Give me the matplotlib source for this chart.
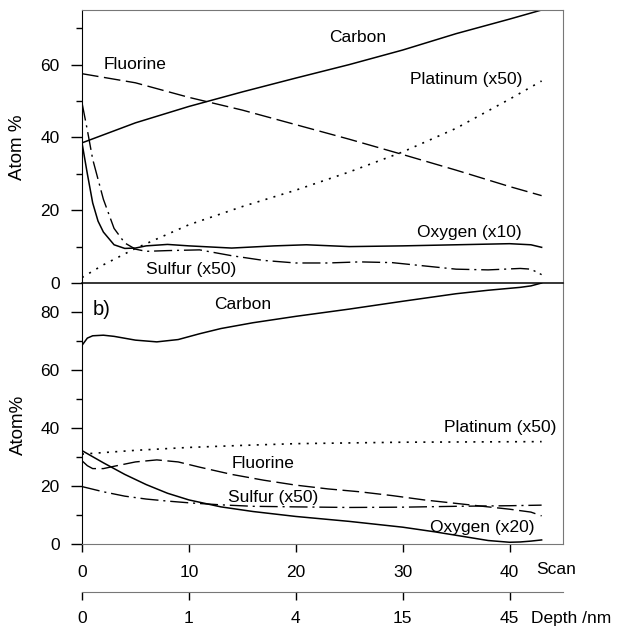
#!/usr/bin/env python3
# depth profile: two stacked panels, scan axis + depth axis

import matplotlib
matplotlib.use("Agg")
import matplotlib.pyplot as plt

plt.rcParams['font.family'] = ['Liberation Sans', 'DejaVu Sans']

# ===== panel a) (top) =====
a_carbon_x = [0, 5, 10, 15, 20, 25, 30, 35, 40, 43]
a_carbon_y = [38.5, 44, 48.5, 52.5, 56.3, 60, 64, 68.5, 72.5, 75]

a_fluor_x = [0, 5, 10, 15, 20, 25, 30, 35, 40, 43]
a_fluor_y = [57.5, 55, 51, 47.5, 43.5, 39.5, 35.3, 31, 26.5, 24]

a_plat_x = [0, 2, 5, 10, 15, 20, 25, 30, 35, 40, 43]
a_plat_y = [1.5, 5, 9.5, 16, 21, 25.5, 30.5, 36, 42.5, 50.5, 55.5]

a_oxy_x = [0, 0.5, 1, 1.5, 2, 3, 4, 5, 6, 8, 10, 14, 18, 21, 25, 30, 35, 40, 42, 43]
a_oxy_y = [38.5, 30, 22, 17, 14, 10.5, 9.5, 9.6, 10.2, 10.6, 10.2, 9.6, 10.2, 10.5,
           10.0, 10.2, 10.5, 10.8, 10.5, 9.8]

a_sulf_x = [0, 0.5, 1, 2, 3, 4, 5, 6, 8, 11, 14, 17, 20, 23, 26, 29, 32, 35, 38, 41, 42, 43]
a_sulf_y = [49.5, 42, 34, 23, 15, 11, 9.3, 8.7, 8.9, 9.1, 7.5, 6.2, 5.5, 5.5, 5.8, 5.6,
            4.7, 3.8, 3.6, 4.0, 3.8, 2.3]

# ===== panel b) (bottom) =====
b_carbon_x = [0, 0.5, 1, 2, 3, 5, 7, 9, 11, 13, 16, 20, 25, 30, 35, 38, 41, 42, 43]
b_carbon_y = [68.5, 71, 71.8, 72, 71.6, 70.3, 69.7, 70.5, 72.5, 74.3, 76.3, 78.5, 81,
              83.7, 86.3, 87.5, 88.5, 89, 90]

b_plat_x = [0, 5, 10, 15, 20, 30, 43]
b_plat_y = [31, 32.3, 33.3, 34, 34.6, 35.1, 35.3]

b_fluor_x = [0, 0.5, 1, 2, 3, 5, 7, 9, 11, 14, 17, 20, 23, 26, 29, 32, 35, 38, 40, 42, 43]
b_fluor_y = [28.7, 27, 26, 26, 26.8, 28.3, 29, 28.3, 26.5, 24, 22, 20.3, 19, 18, 16.7,
             15.2, 14, 12.8, 12, 11, 9.7]

b_oxy_x = [0, 2, 4, 6, 8, 10, 13, 16, 20, 25, 30, 33, 36, 38, 40, 41, 42, 43]
b_oxy_y = [32.2, 28, 24, 20.5, 17.5, 15.2, 12.8, 11.2, 9.5, 7.8, 5.8, 4.2, 2.4, 1.2,
           0.6, 0.7, 1.0, 1.4]

b_sulf_x = [0, 2, 4, 6, 8, 10, 13, 16, 20, 25, 30, 35, 40, 43]
b_sulf_y = [19.8, 18, 16.5, 15.5, 14.8, 14.2, 13.5, 13.0, 12.8, 12.6, 12.7, 13.0, 13.2, 13.4]

scan_ticks = [0, 10, 20, 30, 40]
depth_labels = ["0", "1", "4", "15", "45"]

DASHED = (0, (12, 4))
DASHDOT = (0, (13, 3.5, 1.5, 3.5))
DOTTED = (0, (1.2, 3.8))
FS = 12.5
FRAME = "#777777"

fig = plt.figure(figsize=(6.24, 6.28), dpi=100)
L, W = 82 / 624, (563 - 82) / 624
ax2 = fig.add_axes([L, 1 - 544 / 628, W, (544 - 283) / 628])
ax1 = fig.add_axes([L, 1 - 283 / 628, W, (283 - 10) / 628])
ax3 = fig.add_axes([L, 1 - 592 / 628, W, 0.0005])

for ax in (ax1, ax2):
    ax.set_xlim(0, 45)
    ax.patch.set_alpha(0)
    ax.spines["top"].set_color(FRAME)
    ax.spines["right"].set_color(FRAME)
    ax.spines["left"].set_color("black")
    ax.tick_params(axis="y", direction="out", length=8, width=1, pad=8, labelsize=FS)
    ax.tick_params(axis="y", which="minor", direction="out", length=4, width=1)

# --- top panel ---
ax1.plot(a_carbon_x, a_carbon_y, color="black", lw=1.1)
ax1.plot(a_fluor_x, a_fluor_y, color="black", lw=1.0, linestyle=DASHED)
ax1.plot(a_plat_x, a_plat_y, color="black", lw=1.2, linestyle=DOTTED)
ax1.plot(a_oxy_x, a_oxy_y, color="black", lw=1.1)
ax1.plot(a_sulf_x, a_sulf_y, color="black", lw=1.0, linestyle=DASHDOT)
ax1.set_ylim(0, 75)
ax1.set_yticks([0, 20, 40, 60])
ax1.set_yticks([10, 30, 50, 70], minor=True)
ax1.set_xticks([])
ax1.spines["bottom"].set_color("black")
ax1.spines["bottom"].set_linewidth(1.1)

ax1.text(25.8, 67.5, "Carbon", fontsize=FS, ha="center", va="center")
ax1.text(2.0, 60, "Fluorine", fontsize=FS, ha="left", va="center")
ax1.text(41.2, 56, "Platinum (x50)", fontsize=FS, ha="right", va="center")
ax1.text(31.3, 14, "Oxygen (x10)", fontsize=FS, ha="left", va="center")
ax1.text(6.0, 3.6, "Sulfur (x50)", fontsize=FS, ha="left", va="center")

# --- bottom panel ---
ax2.plot(b_carbon_x, b_carbon_y, color="black", lw=1.1)
ax2.plot(b_plat_x, b_plat_y, color="black", lw=1.2, linestyle=DOTTED)
ax2.plot(b_fluor_x, b_fluor_y, color="black", lw=1.0, linestyle=DASHED)
ax2.plot(b_oxy_x, b_oxy_y, color="black", lw=1.1)
ax2.plot(b_sulf_x, b_sulf_y, color="black", lw=1.0, linestyle=DASHDOT)
ax2.set_ylim(0, 90)
ax2.set_yticks([0, 20, 40, 60, 80])
ax2.set_yticks([10, 30, 50, 70], minor=True)
ax2.set_xticks(scan_ticks)
ax2.spines["top"].set_visible(False)
ax2.spines["bottom"].set_color(FRAME)
ax2.tick_params(axis="x", direction="out", length=6, width=1, pad=9, labelsize=FS)

ax2.text(1.0, 81, "b)", fontsize=FS + 2, ha="left", va="center")
ax2.text(15, 82.5, "Carbon", fontsize=FS, ha="center", va="center")
ax2.text(44.4, 40.3, "Platinum (x50)", fontsize=FS, ha="right", va="center")
ax2.text(14, 27.7, "Fluorine", fontsize=FS, ha="left", va="center")
ax2.text(13.7, 16, "Sulfur (x50)", fontsize=FS, ha="left", va="center")
ax2.text(32.6, 5.6, "Oxygen (x20)", fontsize=FS, ha="left", va="center")

# --- depth axis (just a line with ticks) ---
ax3.set_xlim(0, 45)
for side in ("top", "left", "right"):
    ax3.spines[side].set_visible(False)
ax3.spines["bottom"].set_color(FRAME)
ax3.set_yticks([])
ax3.set_xticks(scan_ticks)
ax3.set_xticklabels(depth_labels)
ax3.tick_params(axis="x", direction="out", length=6, width=1, pad=8, labelsize=FS)

fig.text(536 / 624, 1 - 570 / 628, "Scan", fontsize=FS, ha="left", va="center")
fig.text(531 / 624, 1 - 619 / 628, "Depth /nm", fontsize=FS, ha="left", va="center")
fig.text(18 / 624, 1 - 147 / 628, "Atom %", fontsize=FS + 1, rotation=90, ha="center", va="center")
fig.text(18 / 624, 1 - 425 / 628, "Atom%", fontsize=FS + 1, rotation=90, ha="center", va="center")

fig.savefig("out.png", dpi=100)
